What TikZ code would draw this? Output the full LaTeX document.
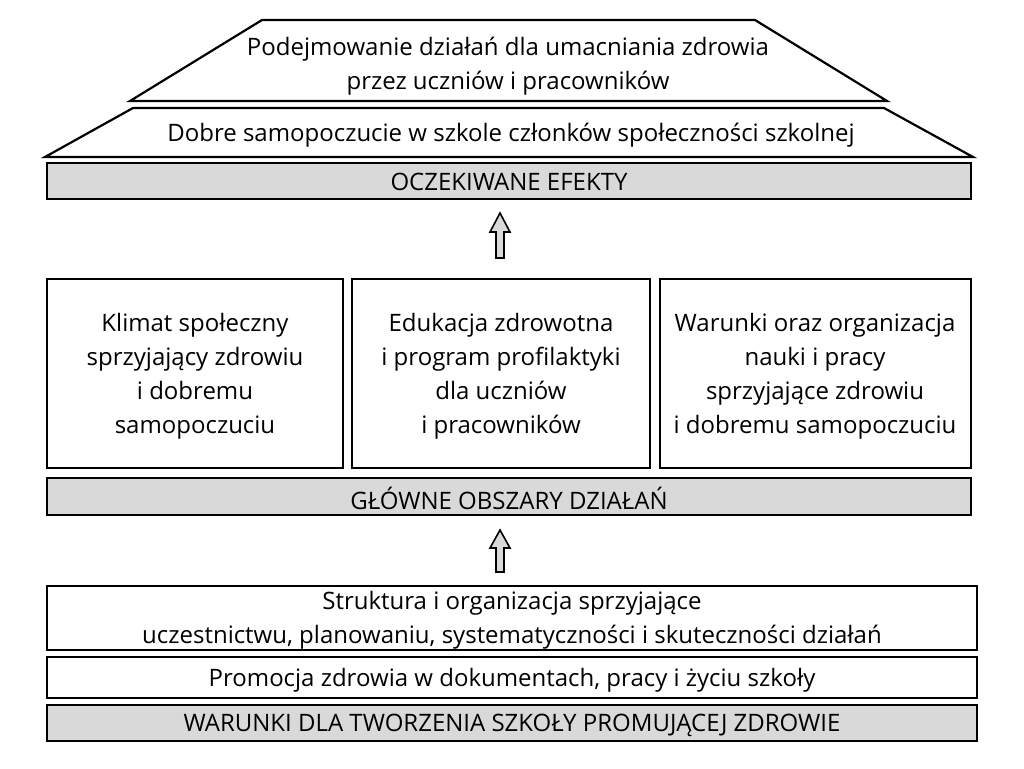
\documentclass[tikz,border=0pt]{standalone}
\usepackage{fontspec}
\setmainfont{Open Sans}
\begin{document}
\begin{tikzpicture}[x=1pt,y=-1pt,
  box/.style={draw=black,line width=2.2pt,fill=white},
  bar/.style={draw=black,line width=2.2pt,fill=black!15},
  txt/.style={font=\fontsize{24}{34}\selectfont,align=center},
  uparrow/.style={draw=black,line width=1.6pt,fill=black!15}]
\useasboundingbox (0,0) rectangle (1024,768);
\path[box] (262,20) -- (755,20) -- (887,101) -- (130,101) -- cycle;
\node[txt] (t1) at (508,66) {Podejmowanie działań dla umacniania zdrowia\\przez uczniów i pracowników};
\path[box] (133,108) -- (884,108) -- (973,157) -- (45,157) -- cycle;
\node[txt] (t2) at (511,135) {Dobre samopoczucie w szkole członków społeczności szkolnej};
\draw[bar] (47,163) rectangle (971,199);
\node[txt] (b1) at (509,182) {OCZEKIWANE EFEKTY};
\path[uparrow] (496,258) -- (496,232) -- (490,232) -- (500,213) -- (510,232) -- (504,232) -- (504,258) -- cycle;
\draw[box] (47,279) rectangle (343,468);
\draw[box] (352,279) rectangle (650,468);
\draw[box] (660,279) rectangle (971,468);
\node[txt] (k1) at (195,376) {Klimat społeczny\\sprzyjający zdrowiu\\i dobremu\\samopoczuciu};
\node[txt] (k2) at (501,376) {Edukacja zdrowotna\\i program profilaktyki\\dla uczniów\\i pracowników};
\node[txt] (k3) at (815,376) {Warunki oraz organizacja\\nauki i pracy\\sprzyjające zdrowiu\\i dobremu samopoczuciu};
\draw[bar] (47,478) rectangle (971,515);
\node[txt] (b2) at (509,498) {GŁÓWNE OBSZARY DZIAŁAŃ};
\path[uparrow] (496,572) -- (496,548) -- (490,548) -- (500,530) -- (510,548) -- (504,548) -- (504,572) -- cycle;
\draw[box] (47,586) rectangle (977,650);
\node[txt] (s1) at (512,620) {Struktura i organizacja sprzyjające\\uczestnictwu, planowaniu, systematyczności i skuteczności działań};
\draw[box] (47,657) rectangle (977,698);
\node[txt] (s2) at (512,680) {Promocja zdrowia w dokumentach, pracy i życiu szkoły};
\draw[bar] (47,705) rectangle (977,741);
\node[txt] (b3) at (512,725) {WARUNKI DLA TWORZENIA SZKOŁY PROMUJĄCEJ ZDROWIE};
\end{tikzpicture}
\end{document}
